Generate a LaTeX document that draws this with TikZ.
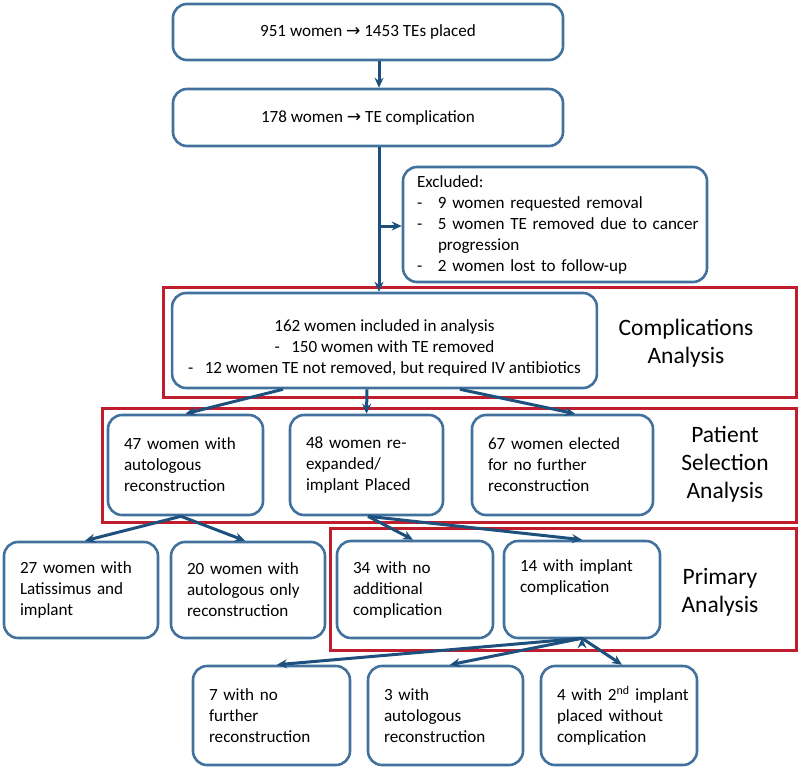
\documentclass[tikz,border=0pt]{standalone}
\usepackage{fontspec}
\setmainfont{Carlito}
\newfontfamily\arrowfont{DejaVu Sans}
\usepackage{tikz}
\usetikzlibrary{arrows.meta,positioning}

\definecolor{boxblue}{RGB}{65,113,156}
\definecolor{arrowblue}{RGB}{30,80,125}
\definecolor{framered}{RGB}{192,30,45}

\begin{document}
\begin{tikzpicture}[x=1pt,y=-1pt,->,>={Stealth[length=10pt,width=9pt]},
			tebox/.style={draw=boxblue,line width=2.6pt,rounded corners=14pt,fill=white,
				inner xsep=16pt,inner ysep=3pt,font={\fontsize{17.1}{21}\selectfont\hyphenpenalty 10000\relax}},
			redframe/.style={draw=framered,line width=3pt,inner sep=0pt},
			grouplbl/.style={align=center,font=\fontsize{23.5}{28}\selectfont},
			conn/.style={draw=arrowblue,line width=3pt}]
			
			\useasboundingbox (0,0) rectangle (800,769);
			
			% red analysis frames
			\node[redframe,minimum width=633,minimum height=110] (rcomp) at (479.5,342) {};
			\node[redframe,minimum width=694,minimum height=114] (rpat)  at (449,465) {};
			\node[redframe,minimum width=466,minimum height=122] (rprim) at (563,589) {};
			\node[grouplbl] (lcomp) at (686,343) {Complications\\Analysis};
			\node[grouplbl] (lpat)  at (725,464) {Patient\\Selection\\Analysis};
			\node[grouplbl] (lprim) at (720,592) {Primary\\Analysis};
			
			% boxes
			\node[tebox,minimum width=390,minimum height=56,align=center] (top) at (368,32) {951 women {\arrowfont →} 1453 TEs placed};
			\node[tebox,minimum width=390,minimum height=57,align=center] (comp) at (368,117.5) {178 women {\arrowfont →} TE complication};
			\node[tebox,minimum width=304,minimum height=115,text width=280,align=left,inner xsep=12pt] (excl) at (555,224.5)
				{\hspace*{2pt}Excluded:\\
				\mbox{\makebox[23pt][l]{\hspace*{2pt}-}9 women requested removal}\\
				\mbox{\makebox[23pt][l]{\hspace*{2pt}-}5 women TE removed due to cancer}\\
				\hspace*{23pt}progression\\
				\mbox{\makebox[23pt][l]{\hspace*{2pt}-}2 women lost to follow-up}};
			\node[tebox,minimum width=423,minimum height=95,align=center] (incl) at (384.5,340.5)
				{\rule{0pt}{27pt}162 women included in analysis\\
				-\hspace{11.5pt}150 women with TE removed\\
				-\hspace{11.5pt}12 women TE not removed, but required IV antibiotics};
			
			\node[tebox,minimum width=155,minimum height=100,text width=123,align=left] (auto) at (185.5,465) {47 women with\\autologous\\reconstruction};
			\node[tebox,minimum width=153,minimum height=100,text width=121,align=left] (reexp) at (366.5,465) {48 women re-\\expanded/\\implant Placed};
			\node[tebox,minimum width=181,minimum height=100,text width=149,align=left] (nofur) at (562.5,465) {67 women elected\\for no further\\reconstruction};
			
			\node[tebox,minimum width=154,minimum height=96,text width=122,align=left] (lat) at (81,590) {27 women with\\Latissimus and\\implant};
			\node[tebox,minimum width=154,minimum height=96,text width=122,align=left] (autonly) at (248,590) {20 women with\\autologous only\\reconstruction};
			\node[tebox,minimum width=156,minimum height=97,text width=124,align=left] (noadd) at (415,589.5) {34 with no\\additional\\complication};
			\node[tebox,minimum width=156,minimum height=97,text width=124,align=left] (impl) at (582,589.5) {14 with implant\\complication\\\strut};
			
			\node[tebox,minimum width=157,minimum height=99,text width=125,align=left] (nofur2) at (271.5,715.5) {7 with no\\further\\reconstruction};
			\node[tebox,minimum width=155,minimum height=99,text width=123,align=left] (auto2) at (445.5,715.5) {3 with\\autologous\\reconstruction};
			\node[tebox,minimum width=156,minimum height=99,text width=124,align=left] (second) at (619,715.5) {\mbox{4 with 2\textsuperscript{nd} implant}\\placed without\\complication};
			
			% connectors
			\coordinate (split) at (379,226);
			\path[conn] ([xshift=11pt]top.south) edge ([xshift=11pt]comp.north)
			([xshift=11pt]comp.south) edge ([xshift=-5.5pt]incl.north)
			(split) edge (excl.west |- split)
			([xshift=-101.5pt]incl.south) edge (auto.north)
			([xshift=-17.5pt]incl.south) edge (reexp.north)
			([xshift=75.5pt]incl.south) edge ([xshift=12.5pt]nofur.north)
			([xshift=-4.5pt]auto.south) edge ([xshift=4pt]lat.north)
			([xshift=-4.5pt]auto.south) edge ([xshift=-3pt]autonly.north)
			([xshift=1.5pt]reexp.south) edge ([xshift=-2pt]noadd.north)
			([xshift=1.5pt]reexp.south) edge (impl.north)
			([yshift=1pt]impl.south) edge ([xshift=5.5pt]nofur2.north)
			([yshift=1pt]impl.south) edge ([xshift=4.5pt]auto2.north)
			([yshift=1pt]impl.south) edge ([xshift=3pt]second.north);
\end{tikzpicture}
\end{document}
